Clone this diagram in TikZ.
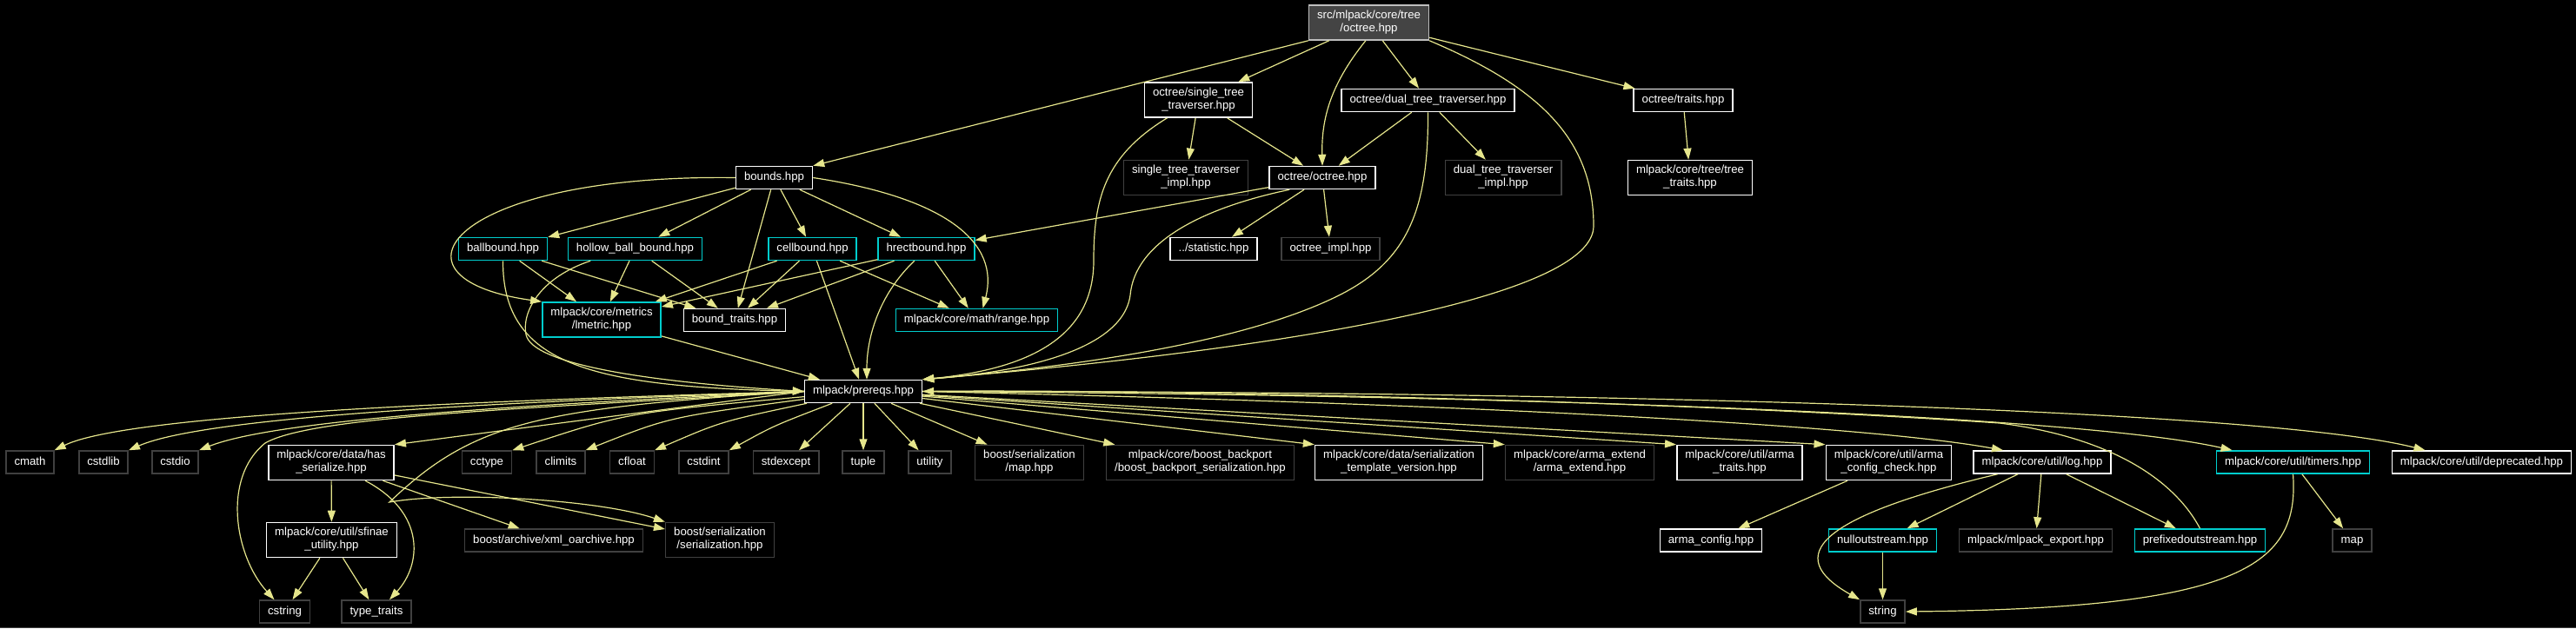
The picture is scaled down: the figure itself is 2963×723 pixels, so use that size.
\documentclass[tikz,border=0pt]{standalone}
\usepackage{fontspec}
\setmainfont{Liberation Sans}
\usetikzlibrary{arrows.meta,positioning}

\definecolor{edgeyellow}{RGB}{230,230,140}
\definecolor{sysline}{RGB}{64,64,64}
\definecolor{rootfill}{RGB}{68,68,68}
\definecolor{rootline}{RGB}{190,190,190}
\definecolor{cutline}{RGB}{0,205,205}

\tikzset{
  hdr/.style={draw=white, fill=black, line width=1.5pt, text=white, align=center,
    inner xsep=9.5pt, inner ysep=5.5pt, minimum height=26pt,
    font=\fontsize{13.2}{15}\selectfont,
    execute at begin node=\strut, execute at end node=\strut},
  syshdr/.style={hdr, draw=sysline},
  cuthdr/.style={hdr, draw=cutline},
  roothdr/.style={hdr, draw=rootline, fill=rootfill},
  dep/.style={draw=edgeyellow, line width=1.2pt, -{Triangle[length=13pt,width=9pt]}},
}

\begin{document}
\begin{tikzpicture}[x=1pt,y=-1pt]
\useasboundingbox (0,0) rectangle (2963,723);
\fill[black] (0,0) rectangle (2963,723);
\draw[sysline, line width=1pt] (0,722) -- (2963,722);

% octree and its traversers
\node[roothdr] (root) at (1574.5,26) {src/mlpack/core/tree\\/octree.hpp};
\node[hdr] (single) at (1378.5,115) {octree/single\_tree\\\_traverser.hpp};
\node[hdr] (dual) at (1642.5,115.5) {octree/dual\_tree\_traverser.hpp};
\node[hdr] (traits) at (1936,115.5) {octree/traits.hpp};
\node[syshdr] (simpl) at (1364,204.5) {single\_tree\_traverser\\\_impl.hpp};
\node[hdr] (octree) at (1521,204.5) {octree/octree.hpp};
\node[syshdr] (dimpl) at (1729,204.5) {dual\_tree\_traverser\\\_impl.hpp};
\node[hdr] (treetraits) at (1944,204.5) {mlpack/core/tree/tree\\\_traits.hpp};
\node[hdr] (stat) at (1396,286.5) {../statistic.hpp};
\node[syshdr] (oimpl) at (1530.5,286.5) {octree\_impl.hpp};

% bounds
\node[hdr] (bounds) at (890.5,204.5) {bounds.hpp};
\node[cuthdr] (ballb) at (578.5,286.5) {ballbound.hpp};
\node[cuthdr] (hollow) at (730.5,286.5) {hollow\_ball\_bound.hpp};
\node[cuthdr] (cellb) at (934.5,286.5) {cellbound.hpp};
\node[cuthdr] (hrectb) at (1065.5,286.5) {hrectbound.hpp};
\node[cuthdr] (lmetric) at (692,368) {mlpack/core/metrics\\/lmetric.hpp};
\node[hdr] (btraits) at (845,368.5) {bound\_traits.hpp};
\node[cuthdr] (range) at (1123.5,368.5) {mlpack/core/math/range.hpp};

\node[hdr] (prereqs) at (993,450.5) {mlpack/prereqs.hpp};

% what prereqs pulls in
\node[syshdr] (cmath) at (34.5,532) {cmath};
\node[syshdr] (cstdlib) at (119,532) {cstdlib};
\node[syshdr] (cstdio) at (201.5,532) {cstdio};
\node[hdr] (hasser) at (381,532.5) {mlpack/core/data/has\\\_serialize.hpp};
\node[syshdr] (cctype) at (560,532) {cctype};
\node[syshdr] (climits) at (645,532) {climits};
\node[syshdr] (cfloat) at (727,532) {cfloat};
\node[syshdr] (cstdint) at (809.5,532) {cstdint};
\node[syshdr] (stdexcept) at (904,532) {stdexcept};
\node[syshdr] (tuple) at (993,532) {tuple};
\node[syshdr] (utility) at (1069.5,532) {utility};
\node[syshdr] (bmap) at (1184,532.5) {boost/serialization\\/map.hpp};
\node[syshdr] (backport) at (1380.5,532.5) {mlpack/core/boost\_backport\\/boost\_backport\_serialization.hpp};
\node[hdr] (tversion) at (1609,532.5) {mlpack/core/data/serialization\\\_template\_version.hpp};
\node[syshdr] (armaext) at (1817,532.5) {mlpack/core/arma\_extend\\/arma\_extend.hpp};
\node[hdr] (armatraits) at (2001,532.5) {mlpack/core/util/arma\\\_traits.hpp};
\node[hdr] (cfgcheck) at (2172.5,532.5) {mlpack/core/util/arma\\\_config\_check.hpp};
\node[hdr] (log) at (2349,532) {mlpack/core/util/log.hpp};
\node[cuthdr] (timers) at (2637.5,532) {mlpack/core/util/timers.hpp};
\node[hdr] (deprecated) at (2854.5,532) {mlpack/core/util/deprecated.hpp};

\node[hdr] (sfinae) at (381.5,621.5) {mlpack/core/util/sfinae\\\_utility.hpp};
\node[syshdr] (xmlarch) at (637,622) {boost/archive/xml\_oarchive.hpp};
\node[syshdr] (bser) at (828,621.5) {boost/serialization\\/serialization.hpp};
\node[hdr] (armacfg) at (1968,622) {arma\_config.hpp};
\node[cuthdr] (nullout) at (2165.5,622) {nulloutstream.hpp};
\node[syshdr] (export) at (2341.5,622) {mlpack/mlpack\_export.hpp};
\node[cuthdr] (prefixed) at (2530.5,622) {prefixedoutstream.hpp};
\node[syshdr] (map) at (2705.5,622) {map};

\node[syshdr] (cstring) at (327.5,704) {cstring};
\node[syshdr] (typetraits) at (433,704) {type\_traits};
\node[syshdr] (string) at (2165.5,704) {string};

% edges from the octree side
\draw[dep] (root.south west) -- (bounds.north east);
\draw[dep] (root) -- (single);
\draw[dep] (root.-100) .. controls (1528,100) and (1520,140) .. (octree.north);
\draw[dep] (root) -- (dual);
\draw[dep] (root.south east) .. controls (1770,100) and (1833,160) .. (1833,260)
  .. controls (1833,340) and (1500,400) .. (prereqs.north east);
\draw[dep] (root) -- (traits);
\draw[dep] (single) -- (simpl);
\draw[dep] (single) -- (octree);
\draw[dep] (single.-150) .. controls (1270,180) and (1258,230) .. (1258,300)
  .. controls (1258,390) and (1180,425) .. (prereqs.north east);
\draw[dep] (dual) -- (octree);
\draw[dep] (dual) -- (dimpl);
\draw[dep] (dual.south) .. controls (1643,240) and (1620,300) .. (1540,340)
  .. controls (1420,400) and (1200,425) .. (prereqs.north east);
\draw[dep] (traits) -- (treetraits);
\draw[dep] (octree) -- (hrectb);
\draw[dep] (octree) -- (stat);
\draw[dep] (octree) -- (oimpl);
\draw[dep] (octree.-160) .. controls (1380,240) and (1305,280) .. (1300,340)
  .. controls (1290,410) and (1150,430) .. (prereqs.north east);

% bounds
\draw[dep] (bounds.west) .. controls (520,200) and (430,320) .. (lmetric.north west);
\draw[dep] (bounds) -- (ballb);
\draw[dep] (bounds) -- (hollow);
\draw[dep] (bounds) -- (btraits);
\draw[dep] (bounds) -- (cellb);
\draw[dep] (bounds) -- (hrectb);
\draw[dep] (bounds.east) .. controls (1090,228) and (1150,280) .. ([xshift=7pt]range.north);
\draw[dep] (ballb) -- (lmetric);
\draw[dep] (ballb) -- (btraits);
\draw[dep] (ballb.south) .. controls (578,420) and (680,445) .. (prereqs.west);
\draw[dep] (hollow) -- (lmetric);
\draw[dep] (hollow) -- (btraits);
\draw[dep] (hollow.-165) .. controls (620,320) and (600,360) .. (605,385)
  .. controls (612,420) and (750,440) .. (prereqs.west);
\draw[dep] (cellb) -- (lmetric);
\draw[dep] (cellb) -- (btraits);
\draw[dep] (cellb) -- (prereqs);
\draw[dep] (cellb) -- (range);
\draw[dep] (hrectb) -- (lmetric);
\draw[dep] (hrectb) -- (btraits);
\draw[dep] (hrectb) -- (range);
\draw[dep] (hrectb.-135) .. controls (1010,340) and (997,390) .. ([xshift=4pt]prereqs.north);
\draw[dep] (lmetric) -- (prereqs);

% prereqs fan-out
\draw[dep] (prereqs.west) .. controls (600,460) and (150,475) .. (cmath.north east);
\draw[dep] (prereqs.west) .. controls (600,462) and (240,478) .. (cstdlib.north east);
\draw[dep] (prereqs.west) .. controls (620,465) and (320,482) .. (cstdio.north east);
\draw[dep] (prereqs.west) .. controls (620,470) and (360,478) .. (305,510)
  .. controls (255,550) and (270,640) .. ([xshift=-12pt]cstring.north);
\draw[dep] (prereqs.west) -- (hasser.north east);
\draw[dep] (prereqs.west) .. controls (620,470) and (545,485) .. (448,578)
  .. controls (520,565) and (690,575) .. (bser.north west);
\draw[dep] (prereqs) .. controls (720,475) .. (cctype.north east);
\draw[dep] (prereqs) .. controls (770,480) .. (climits.north east);
\draw[dep] (prereqs) .. controls (830,485) .. (cfloat.north east);
\draw[dep] (prereqs) .. controls (890,490) .. (cstdint.north east);
\draw[dep] (prereqs) -- (stdexcept);
\draw[dep] (prereqs) -- (tuple);
\draw[dep] (prereqs) -- (utility);
\draw[dep] (prereqs) -- (bmap);
\draw[dep] (prereqs) -- (backport);
\draw[dep] (prereqs) -- (tversion.north west);
\draw[dep] (prereqs) -- (armaext.north west);
\draw[dep] (prereqs) -- (armatraits.north west);
\draw[dep] (prereqs) -- (cfgcheck.north west);
\draw[dep] (prereqs.east) .. controls (1700,465) and (2150,490) .. ([xshift=-45pt]log.north);
\draw[dep] (prereqs.east) .. controls (1800,455) and (2400,480) .. ([xshift=-70pt]timers.north);
\draw[dep] (prereqs.east) .. controls (1800,450) and (2600,470) .. ([xshift=-65pt]deprecated.north);
\draw[dep] (prefixed.north) .. controls (2505,560) and (2440,505) .. (2300,487)
  .. controls (1900,460) and (1300,448) .. (prereqs.east);

% lower levels
\draw[dep] (hasser) -- (sfinae);
\draw[dep] (hasser.-28) .. controls (490,590) and (485,650) .. ([xshift=15pt]typetraits.north);
\draw[dep] (hasser) -- (xmlarch);
\draw[dep] (hasser) -- (bser);
\draw[dep] (sfinae) -- (cstring);
\draw[dep] (sfinae) -- (typetraits);
\draw[dep] (cfgcheck) -- (armacfg);
\draw[dep] (log.-165) .. controls (2090,595) and (2050,640) .. (string.north west);
\draw[dep] (log) -- (nullout);
\draw[dep] (log) -- (export);
\draw[dep] (log) -- (prefixed);
\draw[dep] (nullout) -- (string);
\draw[dep] (timers.south) .. controls (2645,650) and (2580,700) .. (string.east);
\draw[dep] (timers) -- (map);
\end{tikzpicture}
\end{document}
